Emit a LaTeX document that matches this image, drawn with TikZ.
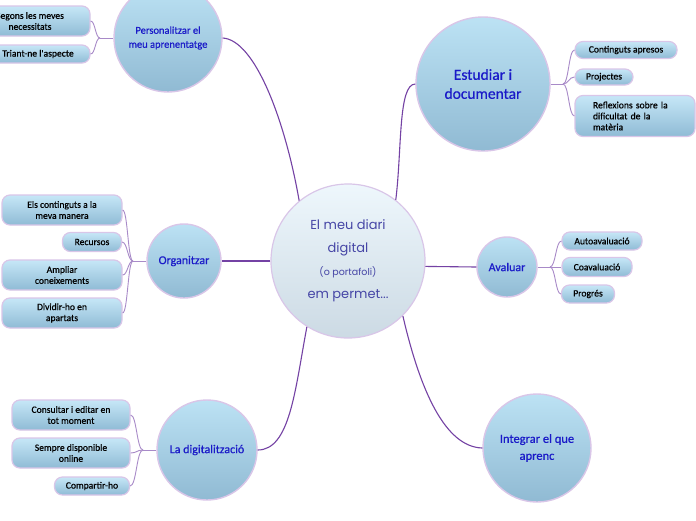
\documentclass[tikz,border=0pt]{standalone}
\usepackage{fontspec}
\setmainfont{Carlito}
\newfontfamily\boxfont{Carlito}[FakeBold=0.6]
\newfontfamily\ctrfont{Poppins}
\usetikzlibrary{calc}
\definecolor{cirtop}{HTML}{BCE2F4}
\definecolor{cirbot}{HTML}{90BAD3}
\definecolor{ctrtop}{HTML}{EEF7FC}
\definecolor{ctrbot}{HTML}{CCDAE4}
\definecolor{rimc}{HTML}{D9C6E8}
\definecolor{boxtop}{HTML}{C6E7F7}
\definecolor{boxbot}{HTML}{8FBBD5}
\definecolor{maintxt}{HTML}{1A1AC8}
\definecolor{ctrtxt}{HTML}{4646A6}
\definecolor{mainln}{HTML}{7442A4}
\definecolor{subln}{HTML}{A88AC8}
\tikzset{
  bigc/.style={circle, inner sep=0pt, top color=cirtop, bottom color=cirbot, draw=rimc, line width=1.4pt, align=center, text=maintxt},
  ctrc/.style={circle, inner sep=0pt, top color=ctrtop, bottom color=ctrbot, draw=rimc, line width=1.2pt, align=center, text=ctrtxt},
  subbox/.style={rounded corners=8pt, inner sep=0pt, top color=boxtop, bottom color=boxbot, draw=rimc, line width=1.2pt, align=center, text=black, font=\boxfont\fontsize{9.6}{11}\selectfont},
  mainline/.style={draw=mainln, line width=1.1pt},
  subline/.style={draw=subln, line width=0.9pt},
}
\newcommand\brk[2]{\draw[subline] (#1) .. controls ($(#1)!0.5!(#2|-#1)$) and ($(#2)!0.5!(#1|-#2)$) .. (#2);}
\begin{document}
\begin{tikzpicture}[x=1pt,y=-1pt]
\useasboundingbox (0,0) rectangle (696,520);
\clip (0,0) rectangle (696,520);
\fill[white] (0,0) rectangle (696,520);

% main circles
\node[ctrc, minimum size=154pt, font=\ctrfont\fontsize{13}{23}\selectfont] (c) at (348,261) {El meu diari\\ digital\\ {\fontsize{9.5}{23}\selectfont (o portafoli)}\\ em permet...};
\node[bigc, minimum size=108pt, font=\boxfont\fontsize{10.5}{14}\selectfont] (p) at (168,38) {Personalitzar el\\ meu aprenentatge};
\node[bigc, minimum size=134pt, font=\boxfont\fontsize{15.5}{19}\selectfont] (e) at (483,84) {Estudiar i\\ documentar};
\node[bigc, minimum size=74pt, font=\boxfont\fontsize{12}{14}\selectfont] (o) at (184,261) {Organitzar};
\node[bigc, minimum size=60pt, font=\boxfont\fontsize{12}{14}\selectfont] (a) at (507,267) {Avaluar};
\node[bigc, minimum size=100pt, font=\boxfont\fontsize{12}{14}\selectfont] (d) at (207,450) {La digitalització};
\node[bigc, minimum size=108pt, font=\boxfont\fontsize{12.5}{17}\selectfont] (i) at (537,448) {Integrar el que\\ aprenc};

% sub boxes
\node[subbox, minimum width=120pt, minimum height=30pt] (p1) at (30,21) {Segons les meves\\ necessitats};
\node[subbox, minimum width=104pt, minimum height=18pt] (p2) at (38,54) {Triant-ne l'aspecte};

\node[subbox, minimum width=102pt, minimum height=17pt] (e1) at (626,50) {Continguts apresos};
\node[subbox, minimum width=58pt, minimum height=16pt] (e2) at (604,77) {Projectes};
\node[subbox, minimum width=120pt, minimum height=41pt, align=left, text width=84pt, inner xsep=18pt] (e3) at (635,116) {Reflexions sobre la\\ dificultat de la\\ matèria};

\node[subbox, minimum width=120pt, minimum height=30pt] (o1) at (62,210) {Els continguts a la\\ meva manera};
\node[subbox, minimum width=59pt, minimum height=19pt] (o2) at (92,242) {Recursos};
\node[subbox, minimum width=120pt, minimum height=30pt] (o3) at (62,275) {Ampliar\\ coneixements};
\node[subbox, minimum width=120pt, minimum height=30pt] (o4) at (62,313) {Dividir-ho en\\ apartats};

\node[subbox, minimum width=80pt, minimum height=18pt] (a1) at (602,241) {Autoavaluació};
\node[subbox, minimum width=70pt, minimum height=19pt] (a2) at (597,267) {Coavaluació};
\node[subbox, minimum width=53pt, minimum height=18pt] (a3) at (588,294) {Progrés};

\node[subbox, minimum width=118pt, minimum height=30pt] (d1) at (71,415) {Consultar i editar en\\ tot moment};
\node[subbox, minimum width=118pt, minimum height=30pt] (d2) at (71,453) {Sempre disponible\\ online};
\node[subbox, minimum width=75pt, minimum height=18pt] (d3) at (92,486) {Compartir-ho};

% junctions
\coordinate (jp) at (100,38);
\coordinate (je) at (563,84);
\coordinate (jo) at (133,261);
\coordinate (ja) at (550,267);
\coordinate (jd) at (143,450);

% main connectors
\draw[mainline] (c.129) .. controls (285,120) and (255,40) .. (p.east);
\draw[mainline] (c.52) .. controls (402,150) and (398,84) .. (e.west);
\draw[mainline] (c.west) -- (o.east);
\draw[mainline] (c.-4) -- (a.west);
\draw[mainline] (c.-122) .. controls (295,390) and (290,450) .. (d.east);
\draw[mainline] (c.-45) .. controls (420,390) and (445,447) .. (i.west);

% sub connectors
\draw[subline] (p.west) -- (jp);
\brk{jp}{p1.east}
\brk{jp}{p2.east}
\draw[subline] (e.east) -- (je);
\brk{je}{e1.west}
\brk{je}{e2.west}
\brk{je}{e3.west}
\draw[subline] (o.west) -- (jo);
\brk{jo}{o1.east}
\brk{jo}{o2.east}
\brk{jo}{o3.east}
\brk{jo}{o4.east}
\draw[subline] (a.east) -- (ja);
\brk{ja}{a1.west}
\brk{ja}{a2.west}
\brk{ja}{a3.west}
\draw[subline] (d.west) -- (jd);
\brk{jd}{d1.east}
\brk{jd}{d2.east}
\brk{jd}{d3.east}
\end{tikzpicture}
\end{document}
